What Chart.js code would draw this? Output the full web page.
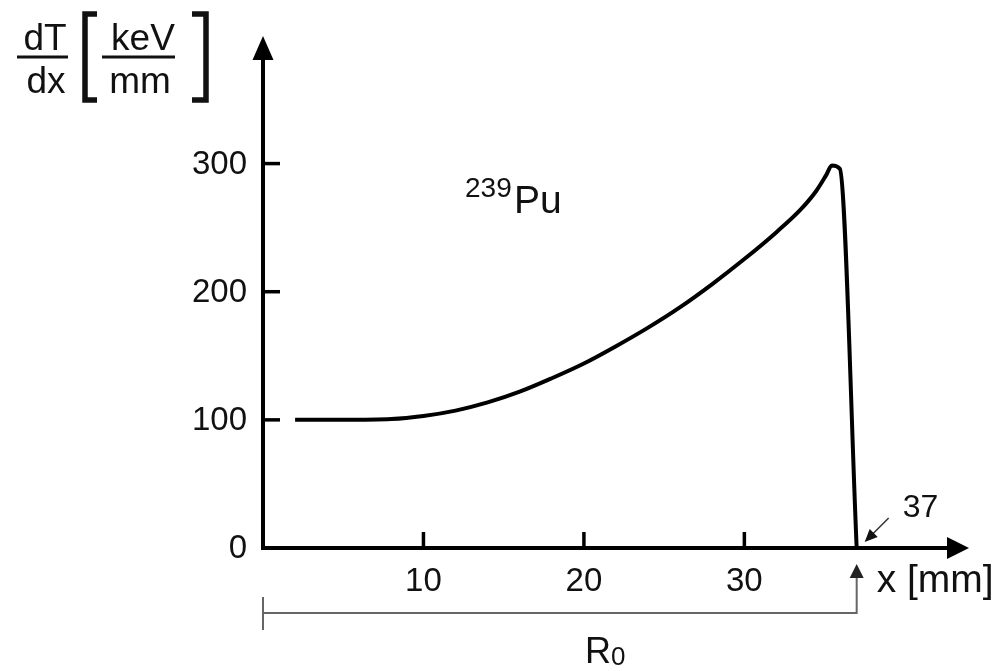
<!DOCTYPE html>
<html lang="en">
  <head>
    <meta charset="utf-8">
    <title>Stopping power of 239Pu alpha particles</title>
    <script src="https://cdn.jsdelivr.net/npm/chart.js@4.4.1/dist/chart.umd.min.js"></script>
    <style>
      body {
        margin: 0;
        background: #fff;
      }
      #wrap {
        width: 1004px;
        height: 671px;
      }
    </style>
  </head>
  <body>
    <div id="wrap">
      <canvas id="braggChart" width="1004" height="671"></canvas>
    </div>
<script>
// range in air [mm] and stopping power dT/dx [keV/mm]
const depth = [2, 5, 8, 10, 12, 14, 16, 18, 20, 22, 24, 26, 28, 30, 32, 33.5, 34.5, 35.1, 35.45, 35.95, 37];
const dTdx = [100, 100, 100.6, 103, 107.2, 113.6, 122, 132.5, 144, 157.5, 172, 188, 206, 225.5, 246.5, 264, 279, 291, 298.5, 296, 0];

const xTicks = [10, 20, 30];
const yTicks = [0, 100, 200, 300];
const rangeEnd = 37;

const FONT = '"Liberation Sans", Arial, sans-serif';

// axes with arrows, inward ticks, labels and the R0 bracket
const axesPlugin = {
  id: 'axesPlugin',
  afterDraw(chart) {
    const ctx = chart.ctx;
    const xs = chart.scales.x;
    const ys = chart.scales.y;
    const x0 = xs.getPixelForValue(0);
    const y0 = ys.getPixelForValue(0);
    const top = ys.top;
    const right = xs.right;

    ctx.save();
    ctx.strokeStyle = '#000';
    ctx.fillStyle = '#000';
    ctx.lineCap = 'butt';

    // y axis + arrow
    ctx.lineWidth = 4;
    ctx.beginPath();
    ctx.moveTo(x0, y0 + 2);
    ctx.lineTo(x0, top + 20);
    ctx.stroke();
    ctx.beginPath();
    ctx.moveTo(x0, top - 2);
    ctx.lineTo(x0 - 10.5, top + 22);
    ctx.lineTo(x0 + 10.5, top + 22);
    ctx.closePath();
    ctx.fill();

    // x axis + arrow
    ctx.beginPath();
    ctx.moveTo(x0 - 2, y0);
    ctx.lineTo(right - 20, y0);
    ctx.stroke();
    ctx.beginPath();
    ctx.moveTo(right, y0);
    ctx.lineTo(right - 22, y0 - 11);
    ctx.lineTo(right - 22, y0 + 11);
    ctx.closePath();
    ctx.fill();

    // ticks
    ctx.lineWidth = 3.5;
    yTicks.forEach(v => {
      if (v === 0) return;
      const py = ys.getPixelForValue(v);
      ctx.beginPath();
      ctx.moveTo(x0, py);
      ctx.lineTo(x0 + 17, py);
      ctx.stroke();
    });
    xTicks.forEach(v => {
      const px = xs.getPixelForValue(v);
      ctx.beginPath();
      ctx.moveTo(px, y0);
      ctx.lineTo(px, y0 - 16);
      ctx.stroke();
    });

    // tick labels
    ctx.fillStyle = '#111';
    ctx.font = '33px ' + FONT;
    ctx.textAlign = 'right';
    ctx.textBaseline = 'middle';
    yTicks.forEach(v => {
      ctx.fillText(String(v), x0 - 16, ys.getPixelForValue(v) + 1);
    });
    ctx.textAlign = 'center';
    ctx.textBaseline = 'alphabetic';
    xTicks.forEach(v => {
      ctx.fillText(String(v), xs.getPixelForValue(v), y0 + 43);
    });

    // x axis title
    ctx.textAlign = 'left';
    ctx.font = '39px ' + FONT;
    ctx.fillText('x [mm]', xs.getPixelForValue(rangeEnd) + 20, y0 + 44);

    // y axis title: dT/dx [keV/mm]
    ctx.font = '37px ' + FONT;
    ctx.textAlign = 'center';
    ctx.fillText('dT', 45, 50);
    ctx.fillText('dx', 46, 93);
    ctx.fillText('keV', 143, 50);
    ctx.fillText('mm', 140, 93);
    ctx.lineWidth = 3;
    ctx.strokeStyle = '#111';
    ctx.beginPath();
    ctx.moveTo(17, 57); ctx.lineTo(68, 57);
    ctx.moveTo(102, 57); ctx.lineTo(175, 57);
    ctx.stroke();
    ctx.lineWidth = 5.5;
    ctx.beginPath();
    ctx.moveTo(97, 14); ctx.lineTo(85, 14); ctx.lineTo(85, 100); ctx.lineTo(97, 100);
    ctx.moveTo(192, 14); ctx.lineTo(206, 14); ctx.lineTo(206, 100); ctx.lineTo(192, 100);
    ctx.stroke();

    // isotope label
    ctx.textAlign = 'left';
    ctx.font = '28px ' + FONT;
    ctx.fillText('239', 465, 197);
    ctx.font = '39px ' + FONT;
    ctx.fillText('Pu', 514, 213);

    // "37" with small pointer arrow to the end of the range
    const xe = xs.getPixelForValue(rangeEnd);
    ctx.font = '32px ' + FONT;
    ctx.fillText('37', xe + 46, y0 - 31);
    ctx.strokeStyle = '#333';
    ctx.fillStyle = '#111';
    ctx.lineWidth = 1.5;
    ctx.beginPath();
    ctx.moveTo(xe + 32, y0 - 30);
    ctx.lineTo(xe + 16, y0 - 14);
    ctx.stroke();
    ctx.beginPath();
    ctx.moveTo(xe + 8, y0 - 6);
    ctx.lineTo(xe + 13, y0 - 19);
    ctx.lineTo(xe + 21, y0 - 11);
    ctx.closePath();
    ctx.fill();

    // R0 bracket
    ctx.strokeStyle = '#666';
    ctx.fillStyle = '#222';
    ctx.lineWidth = 2;
    ctx.beginPath();
    ctx.moveTo(x0, y0 + 49);
    ctx.lineTo(x0, y0 + 82);
    ctx.moveTo(x0, y0 + 65);
    ctx.lineTo(xe, y0 + 65);
    ctx.lineTo(xe, y0 + 29);
    ctx.stroke();
    ctx.beginPath();
    ctx.moveTo(xe, y0 + 16);
    ctx.lineTo(xe - 7, y0 + 30);
    ctx.lineTo(xe + 7, y0 + 30);
    ctx.closePath();
    ctx.fill();

    ctx.fillStyle = '#111';
    ctx.font = '36px ' + FONT;
    ctx.fillText('R', 585, 663);
    ctx.font = '26px ' + FONT;
    ctx.fillText('0', 611, 665);

    ctx.restore();
  }
};

const points = depth.map((d, i) => ({ x: d, y: dTdx[i] }));

new Chart(document.getElementById('braggChart'), {
  type: 'line',
  data: {
    datasets: [{
      data: points,
      borderColor: '#000',
      borderWidth: 4,
      pointRadius: 0,
      fill: false,
      cubicInterpolationMode: 'monotone',
      clip: false
    }]
  },
  options: {
    responsive: false,
    animation: false,
    layout: {
      padding: { left: 263, right: 35, top: 38, bottom: 123 }
    },
    plugins: {
      legend: { display: false },
      tooltip: { enabled: false }
    },
    scales: {
      x: { type: 'linear', min: 0, max: 44, display: false },
      y: { type: 'linear', min: 0, max: 398, display: false }
    }
  },
  plugins: [axesPlugin]
});
</script>
  </body>
</html>
